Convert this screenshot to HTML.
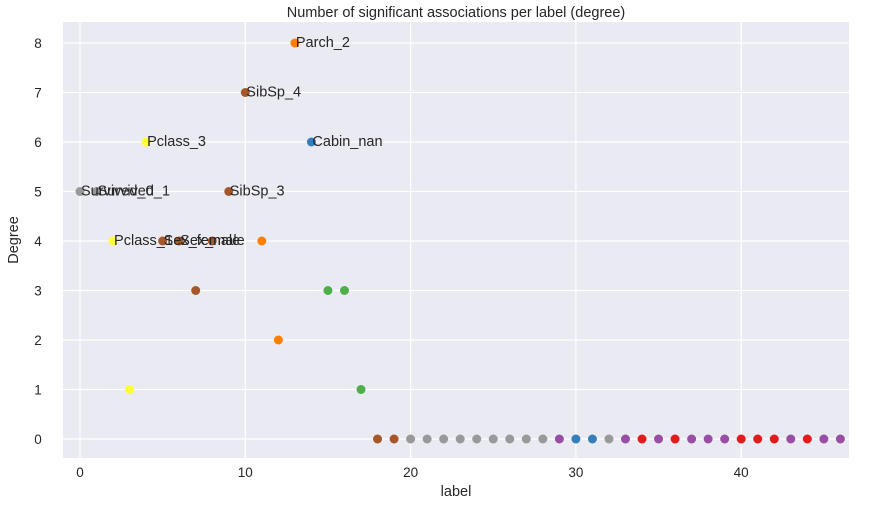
<!DOCTYPE html>
<html><head><meta charset="utf-8"><style>
body{margin:0;background:#fff;width:886px;height:505px;overflow:hidden;font-family:"Liberation Sans",sans-serif}
</style></head><body>
<svg id="chart" width="886" height="505" xmlns="http://www.w3.org/2000/svg" font-family="Liberation Sans, sans-serif"></svg>
<script>
const labels=[0,1,2,3,4,5,6,7,8,9,10,11,12,13,14,15,16,17,18,19,20,21,22,23,24,25,26,27,28,29,30,31,32,33,34,35,36,37,38,39,40,41,42,43,44,45,46];
const degrees=[5,5,4,1,6,4,4,3,4,5,7,4,2,8,6,3,3,1,0,0,0,0,0,0,0,0,0,0,0,0,0,0,0,0,0,0,0,0,0,0,0,0,0,0,0,0,0];
const groups=['gray','gray','yellow','yellow','yellow','brown','brown','brown','brown','brown','brown','orange','orange','orange','blue','green','green','green','brown','brown','gray','gray','gray','gray','gray','gray','gray','gray','gray','purple','blue','blue','gray','purple','red','purple','red','purple','purple','purple','red','red','red','purple','red','purple','purple'];
const names=['Survived_0','Survived_1','Pclass_1','','Pclass_3','Sex_female','Sex_male','','','SibSp_3','SibSp_4','','','Parch_2','Cabin_nan'];
const xTicks=[0,10,20,30,40];
const yTicks=[0,1,2,3,4,5,6,7,8];
const palette={gray:'#999999',yellow:'#ffff33',brown:'#a65628',orange:'#ff7f00',blue:'#377eb8',green:'#4daf4a',purple:'#984ea3',red:'#e41a1c'};
const L=63,R=849,T=22,B=458;
const X=v=>80+v*16.53, Y=v=>439-v*49.5;
const svg=document.getElementById('chart');
const NS='http://www.w3.org/2000/svg';
function mk(tag,attrs,txt){const e=document.createElementNS(NS,tag);for(const k in attrs)e.setAttribute(k,attrs[k]);if(txt!==undefined)e.textContent=txt;svg.appendChild(e);return e;}
let bg=mk('rect',{x:L,y:T,width:R-L,height:B-T,fill:'#eaeaf2'});


xTicks.forEach(t=>{
 let g=mk('line',{x1:X(t),x2:X(t),y1:T,y2:B,stroke:'#fff','stroke-width':1.2});
 
 
 let tl=mk('text',{x:X(t),y:B+19,'text-anchor':'middle','font-size':13.5,fill:'#262626'},String(t));
 
 
});
yTicks.forEach(t=>{
 let g=mk('line',{x1:L,x2:R,y1:Y(t),y2:Y(t),stroke:'#fff','stroke-width':1.2});
 
 
 let tl=mk('text',{x:L-25,y:Y(t)+5,'text-anchor':'middle','font-size':13.5,fill:'#262626'},String(t));
 
 
});
labels.forEach((l,i)=>{
 let c=mk('circle',{cx:X(l),cy:Y(degrees[i]),r:4.5,fill:palette[groups[i]]});
 
 
});
labels.forEach((l,i)=>{
 if(names[i]){
  let t=mk('text',{x:X(l)+1,y:Y(degrees[i])+4,'font-size':14.5,fill:'#262626'},names[i]);
  
  
 }
});
let tt=mk('text',{x:(L+R)/2,y:17,'text-anchor':'middle','font-size':14.5,fill:'#262626'},'Number of significant associations per label (degree)');


let xl=mk('text',{x:(L+R)/2,y:496,'text-anchor':'middle','font-size':14.5,fill:'#262626'},'label');


let yl=mk('text',{x:18,y:(T+B)/2,'text-anchor':'middle','font-size':14.5,fill:'#262626',transform:'rotate(-90 18 '+((T+B)/2)+')'},'Degree');


</script>
</body></html>
